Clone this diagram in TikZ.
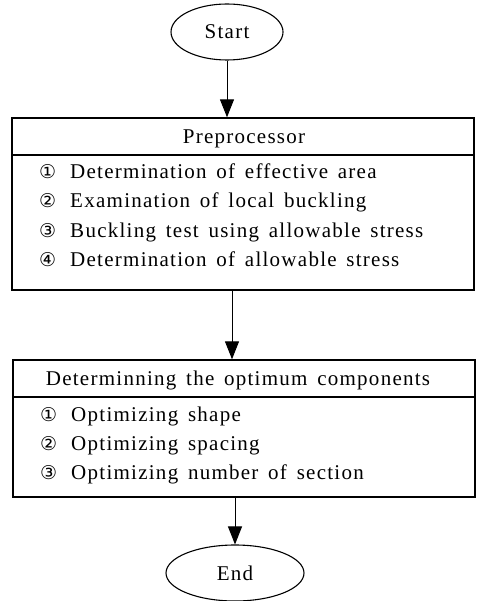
\documentclass[tikz,border=0pt]{standalone}
\usepackage{fontspec}
\setmainfont{Liberation Serif}[LetterSpace=6,WordSpace=1.5]
\newfontfamily\circfont{DejaVu Sans}
\usetikzlibrary{shapes.geometric,arrows.meta}
\newcommand\cnum[1]{{\circfont\fontsize{19}{19}\selectfont #1}}
\tikzset{
  term/.style={draw,ellipse,line width=1.1pt,inner sep=0pt},
  boxpart/.style={draw,rectangle,line width=1.4pt,inner sep=0pt},
  txt/.style={font=\fontsize{21}{21}\selectfont,inner sep=0pt},
  item/.style={txt,anchor=base west},
  arr/.style={line width=1pt,-{Triangle[length=18pt,width=14pt]}},
}
\begin{document}
\begin{tikzpicture}[x=1pt,y=-1pt]
\useasboundingbox (0,0) rectangle (480,601);
% Start
\node[term,minimum width=112pt,minimum height=56pt] (start) at (227,32) {};
\node[txt,anchor=base] (starttxt) at (227,39) {Start};
% Preprocessor box
\node[boxpart,minimum width=462pt,minimum height=37pt] (pre) at (243,136.5) {};
\node[boxpart,minimum width=462pt,minimum height=135pt] (prebody) at (243,222.5) {};
\node[txt,anchor=base] (pretxt) at (244,143.5) {Preprocessor};
\node[item] (p1) at (39,178.5) {\cnum{①}\hspace{14pt}Determination of effective area};
\node[item] (p2) at (39,208) {\cnum{②}\hspace{14pt}Examination of local buckling};
\node[item] (p3) at (39,237) {\cnum{③}\hspace{14pt}Buckling test using allowable stress};
\node[item] (p4) at (39,266) {\cnum{④}\hspace{14pt}Determination of allowable stress};
% Optimum components box
\node[boxpart,minimum width=462pt,minimum height=37pt] (det) at (244,378.5) {};
\node[boxpart,minimum width=462pt,minimum height=100pt] (detbody) at (244,447) {};
\node[txt,anchor=base] (dettxt) at (238,385.5) {Determinning the optimum components};
\node[item] (d1) at (40,421.5) {\cnum{①}\hspace{14pt}Optimizing shape};
\node[item] (d2) at (40,450) {\cnum{②}\hspace{14pt}Optimizing spacing};
\node[item] (d3) at (40,479) {\cnum{③}\hspace{14pt}Optimizing number of section};
% End
\node[term,minimum width=138pt,minimum height=56pt] (end) at (235,573) {};
\node[txt,anchor=base] (endtxt) at (235,580) {End};
% connectors
\draw[arr] (start.south) -- (start.south |- pre.north);
\coordinate (a2) at (232,290);
\draw[arr] (a2) -- (a2 |- det.north);
\draw[arr] (detbody.south -| end.north) -- (end.north);
\end{tikzpicture}
\end{document}
